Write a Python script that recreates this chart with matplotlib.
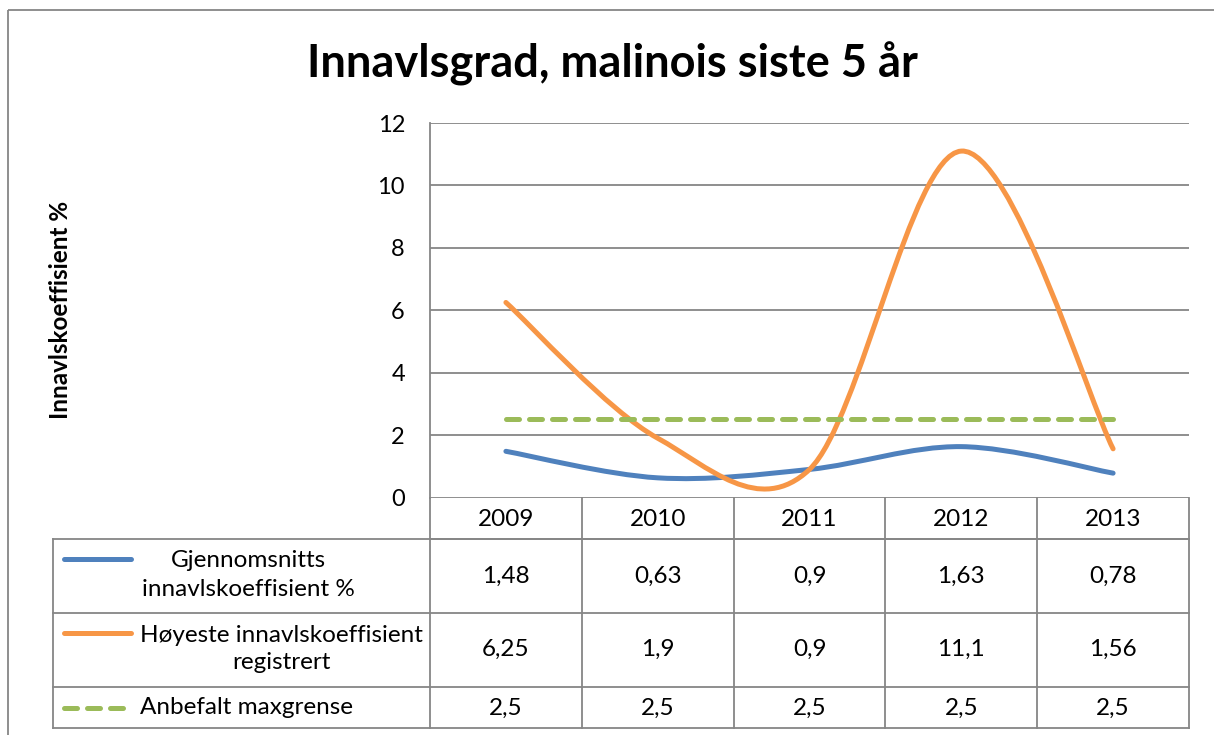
import numpy as np
import matplotlib
matplotlib.use("Agg")
import matplotlib.pyplot as plt
from matplotlib.path import Path
from matplotlib.patches import PathPatch, Rectangle
from matplotlib.lines import Line2D

plt.rcParams['font.family'] = ['Lato', 'DejaVu Sans']

# ---- data ----
years = ["2009", "2010", "2011", "2012", "2013"]
avg_coef = [1.48, 0.63, 0.9, 1.63, 0.78]
max_coef = [6.25, 1.9, 0.9, 11.1, 1.56]
limit = [2.5, 2.5, 2.5, 2.5, 2.5]
avg_labels = ["1,48", "0,63", "0,9", "1,63", "0,78"]
max_labels = ["6,25", "1,9", "0,9", "11,1", "1,56"]
limit_labels = ["2,5", "2,5", "2,5", "2,5", "2,5"]
series_names = ["Gjennomsnitts\ninnavlskoeffisient %",
                "Høyeste innavlskoeffisient\nregistrert",
                "Anbefalt maxgrense"]
title = "Innavlsgrad, malinois siste 5 år"
ylabel = "Innavlskoeffisient %"

BLUE = "#4F81BD"
ORANGE = "#F79646"
GREEN = "#9BBB59"
GRID = "#868686"

W, H = 1214, 735
fig = plt.figure(figsize=(W / 100, H / 100), dpi=100)

# table / frame axes in pixel coordinates
tax = fig.add_axes([0, 0, 1, 1])
tax.set_xlim(0, W)
tax.set_ylim(H, 0)
tax.axis("off")

# outer chart border
tax.add_patch(Rectangle((8, 10), W + 20, H + 20, fill=False,
                        edgecolor=GRID, lw=1.3, clip_on=False))

# main plot axes
L, R, T, B = 430, 1189, 123, 497.5
ax = fig.add_axes([L / W, 1 - B / H, (R - L) / W, (B - T) / H])
ax.set_xlim(-0.5, len(years) - 0.5)
ax.set_ylim(0, 12)
ax.set_yticks(np.arange(0, 13, 2))
ax.set_yticklabels([str(v) for v in range(0, 13, 2)], fontsize=17)
ax.set_xticks([])
ax.tick_params(axis="y", length=0, pad=18)
ax.grid(axis="y", color=GRID, lw=1.3)
ax.set_axisbelow(True)
for s in ["top", "right", "bottom"]:
    ax.spines[s].set_visible(False)
ax.spines["left"].set_color(GRID)
ax.spines["left"].set_linewidth(1.3)
ax.patch.set_alpha(0)


def smooth_path(xs, ys):
    xs = np.asarray(xs, float)
    ys = np.asarray(ys, float)
    pts = np.column_stack([xs, ys])
    n = len(pts)
    verts = [pts[0]]
    codes = [Path.MOVETO]
    for i in range(n - 1):
        p0 = pts[i - 1] if i > 0 else pts[i]
        p1 = pts[i]
        p2 = pts[i + 1]
        p3 = pts[i + 2] if i + 2 < n else pts[i + 1]
        c1 = p1 + (p2 - p0) / 6.0
        c2 = p2 - (p3 - p1) / 6.0
        verts += [c1, c2, p2]
        codes += [Path.CURVE4] * 3
    return Path(verts, codes)


x = np.arange(len(years))
lw = 3.6
for vals, col in [(avg_coef, BLUE), (max_coef, ORANGE)]:
    patch = PathPatch(smooth_path(x, vals), fill=False, edgecolor=col,
                      lw=lw, capstyle="round", joinstyle="round",
                      clip_on=False, zorder=3)
    ax.add_patch(patch)
ax.plot(x, limit, color=GREEN, lw=lw, dashes=(2.6, 2.0),
        dash_capstyle="round", zorder=3, clip_on=False)

# titles
fig.text(612 / W, 1 - 64 / H, title, ha="center", va="center",
         fontsize=32.5, fontweight="bold")
fig.text(60 / W, 1 - 310 / H, ylabel, ha="center", va="center",
         rotation=90, fontsize=17.5, fontweight="bold")

# ---- data table ----
fig.canvas.draw()
edges_disp = ax.transData.transform(
    np.column_stack([np.arange(len(years) + 1) - 0.5, np.zeros(len(years) + 1)]))
col_edges = edges_disp[:, 0]
centers = (col_edges[:-1] + col_edges[1:]) / 2

row_top = [498, 539, 613, 687]
row_bot = 728
tl = dict(color=GRID, lw=1.3, solid_capstyle="projecting")
# header row
tax.plot([col_edges[0], col_edges[-1]], [row_top[1], row_top[1]], **tl)
for xe in col_edges:
    tax.plot([xe, xe], [row_top[0], row_bot], **tl)
# body rows
leftx = 53
for yv in row_top[1:] + [row_bot]:
    tax.plot([leftx, col_edges[-1]], [yv, yv], **tl)
tax.plot([leftx, leftx], [row_top[1], row_bot], **tl)

fs = 17.5
for cx, yr in zip(centers, years):
    tax.text(cx, 519, yr, ha="center", va="center", fontsize=fs)

rows = [avg_labels, max_labels, limit_labels]
row_y = [576, 649, 708]
for labels, yv in zip(rows, row_y):
    for cx, lab in zip(centers, labels):
        tax.text(cx, yv, lab, ha="center", va="center", fontsize=fs)

# legend keys and names
tax.add_line(Line2D([64, 131], [559, 559], color=BLUE, lw=lw,
                    solid_capstyle="round"))
tax.add_line(Line2D([64, 131], [633, 633], color=ORANGE, lw=lw,
                    solid_capstyle="round"))
tax.add_line(Line2D([64, 124], [708, 708], color=GREEN, lw=lw,
                    dashes=(2.6, 2.0), dash_capstyle="round"))
tax.text(248, 575, series_names[0], ha="center", va="center",
         fontsize=fs, multialignment="center", linespacing=1.5)
tax.text(281, 649, series_names[1], ha="center", va="center",
         fontsize=fs, multialignment="center", linespacing=1.4)
tax.text(140, 708, series_names[2], ha="left", va="center", fontsize=fs)

fig.savefig("out.png", dpi=100)
